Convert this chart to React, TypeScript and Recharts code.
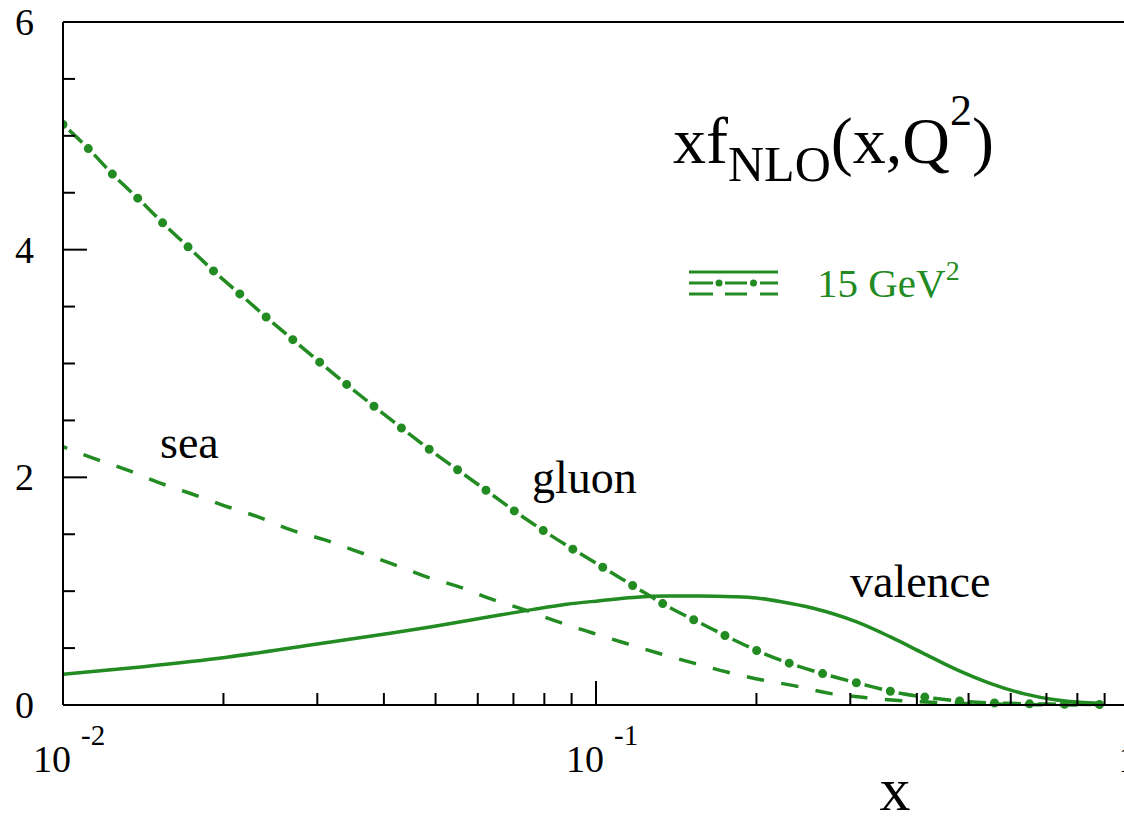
import React from 'react';
import { LineChart, Line, XAxis, YAxis } from 'recharts';

const GREEN = '#228b22';
const FONT = '"Liberation Serif", "Times New Roman", serif';

// values
const valenceX = [0.01, 0.01415, 0.0203, 0.0291, 0.0417, 0.0495, 0.0572, 0.066, 0.0763, 0.0881, 0.1017, 0.1175, 0.1357, 0.1567, 0.181, 0.2002, 0.2214, 0.2557, 0.3084, 0.3561, 0.4113, 0.475, 0.5486, 0.6335, 0.7317, 0.8091, 0.8822];
const valenceY = [0.27, 0.337, 0.42, 0.527, 0.635, 0.69, 0.74, 0.79, 0.84, 0.885, 0.916, 0.945, 0.958, 0.958, 0.952, 0.94, 0.91, 0.85, 0.73, 0.6, 0.454, 0.31, 0.19, 0.1, 0.044, 0.024, 0.015];

const seaX = [0.01, 0.01135, 0.0131, 0.015, 0.0173, 0.0201, 0.0233, 0.0267, 0.031, 0.0356, 0.0412, 0.0478, 0.0552, 0.0637, 0.0736, 0.085, 0.0982, 0.114, 0.132, 0.152, 0.176, 0.205, 0.235, 0.276, 0.322, 0.375, 0.436, 0.506, 0.585, 0.711, 0.882];
const seaY = [2.27, 2.17, 2.07, 1.96, 1.86, 1.75, 1.65, 1.54, 1.45, 1.35, 1.245, 1.13, 1.04, 0.93, 0.835, 0.73, 0.635, 0.54, 0.45, 0.37, 0.29, 0.22, 0.17, 0.1, 0.064, 0.038, 0.023, 0.012, 0.006, 0.002, 0.0005];

const gluonX = [0.01, 0.0112, 0.0124, 0.0139, 0.0155, 0.0173, 0.0193, 0.0216, 0.0243, 0.0273, 0.0307, 0.0346, 0.0389, 0.0438, 0.0495, 0.056, 0.0633, 0.0715, 0.0816, 0.0926, 0.1055, 0.12, 0.137, 0.157, 0.18, 0.207, 0.238, 0.276, 0.32, 0.372, 0.431, 0.501, 0.585, 0.679, 0.79, 0.886];
const gluonY = [5.1, 4.88, 4.66, 4.44, 4.22, 4.01, 3.8, 3.6, 3.39, 3.19, 2.99, 2.79, 2.6, 2.41, 2.22, 2.04, 1.86, 1.68, 1.5, 1.34, 1.18, 1.02, 0.86, 0.72, 0.58, 0.45, 0.345, 0.255, 0.176, 0.103, 0.059, 0.029, 0.015, 0.009, 0.006, 0.004];

const xTicks = [0.01, 0.02, 0.03, 0.04, 0.05, 0.06, 0.07, 0.08, 0.09, 0.1, 0.2, 0.3, 0.4, 0.5, 0.6, 0.7, 0.8, 0.9, 1];
const yTicks = [0, 0.5, 1, 1.5, 2, 2.5, 3, 3.5, 4, 4.5, 5, 5.5, 6];

const toPoints = (xs: number[], ys: number[]) => xs.map((x, i) => ({ x, y: ys[i] }));
const valence = toPoints(valenceX, valenceY);
const sea = toPoints(seaX, seaY);
const gluon = toPoints(gluonX, gluonY);

const isDecade = (v: number) => Math.abs(Math.log10(v) - Math.round(Math.log10(v))) < 1e-6;

const BottomTick = (props: any) => {
  const { x, y, payload } = props;
  const v = payload.value;
  const major = isDecade(v);
  const exp = Math.round(Math.log10(v));
  return (
    <g>
      <line x1={x} y1={y} x2={x} y2={y - (major ? 24 : 12)} stroke="#000" strokeWidth={2} />
      {major && exp !== 0 && (
        <>
          <text x={x + 8} y={y + 67} textAnchor="end" fontSize={38} fontFamily={FONT} fill="#000">10</text>
          <text x={x + 18} y={y + 40} fontSize={29} fontFamily={FONT} fill="#000">{`-${-exp}`}</text>
        </>
      )}
      {major && exp === 0 && (
        <text x={x - 1} y={y + 67} textAnchor="middle" fontSize={38} fontFamily={FONT} fill="#000">1</text>
      )}
    </g>
  );
};

const TopTick = (props: any) => {
  const { x, y, payload } = props;
  const major = isDecade(payload.value);
  return <line x1={x} y1={y} x2={x} y2={y + (major ? 24 : 12)} stroke="#000" strokeWidth={2} />;
};

const LeftTick = (props: any) => {
  const { x, y, payload } = props;
  const v = payload.value;
  const major = v % 2 === 0;
  return (
    <g>
      <line x1={x} y1={y} x2={x + (major ? 24 : 12)} y2={y} stroke="#000" strokeWidth={2} />
      {major && (
        <text x={x - 29} y={y + 13} textAnchor="end" fontSize={38} fontFamily={FONT} fill="#000">{v}</text>
      )}
    </g>
  );
};

const RightTick = (props: any) => {
  const { x, y, payload } = props;
  const major = payload.value % 2 === 0;
  return <line x1={x} y1={y} x2={x - (major ? 24 : 12)} y2={y} stroke="#000" strokeWidth={2} />;
};

const axisStroke = { stroke: '#000', strokeWidth: 2 };

export default function App() {
  return (
    <div style={{ position: 'fixed', left: 0, top: 0, width: 1124, height: 821, overflow: 'hidden', background: '#fff' }}>
      <LineChart width={1140} height={821} margin={{ top: 0, right: 0, bottom: 0, left: 0 }}>
        <XAxis
          dataKey="x"
          type="number"
          scale="log"
          domain={[0.01, 1]}
          allowDataOverflow
          ticks={xTicks}
          interval={0}
          tickLine={false}
          tickSize={0}
          tickMargin={0}
          axisLine={axisStroke}
          tick={BottomTick}
          height={116}
        />
        <XAxis
          xAxisId="top"
          orientation="top"
          type="number"
          scale="log"
          domain={[0.01, 1]}
          allowDataOverflow
          ticks={xTicks}
          interval={0}
          tickLine={false}
          tickSize={0}
          tickMargin={0}
          axisLine={axisStroke}
          tick={TopTick}
          height={22}
        />
        <YAxis
          type="number"
          domain={[0, 6]}
          ticks={yTicks}
          interval={0}
          tickLine={false}
          tickSize={0}
          tickMargin={0}
          axisLine={axisStroke}
          tick={LeftTick}
          width={63}
        />
        <YAxis
          yAxisId="right"
          orientation="right"
          type="number"
          domain={[0, 6]}
          ticks={yTicks}
          interval={0}
          tickLine={false}
          tickSize={0}
          tickMargin={0}
          axisLine={axisStroke}
          tick={RightTick}
          width={11}
        />

        <Line data={valence} dataKey="y" type="monotone" stroke={GREEN} strokeWidth={3.5} dot={false} isAnimationActive={false} />
        <Line data={sea} dataKey="y" type="monotone" stroke={GREEN} strokeWidth={3.5} strokeDasharray="17.5 17.5" strokeDashoffset={13} dot={false} isAnimationActive={false} />
        <Line data={gluon} dataKey="y" type="monotone" stroke={GREEN} strokeWidth={3.5} strokeDasharray="0 8.5 18 8.5" dot={false} isAnimationActive={false} />
        <Line data={gluon} dataKey="y" type="monotone" stroke={GREEN} strokeWidth={9} strokeLinecap="round" strokeDasharray="0 35" dot={false} isAnimationActive={false} />

        <text x={673} y={163} fontSize={66} fontFamily={FONT} fill="#000">
          xf<tspan fontSize={50} dy={18}>NLO</tspan>
          <tspan dy={-18}>(x,Q</tspan>
          <tspan fontSize={44} dy={-38}>2</tspan>
          <tspan dy={38}>)</tspan>
        </text>

        <g stroke={GREEN} strokeWidth={3}>
          <line x1={689} y1={272} x2={778} y2={272} />
          <line x1={689} y1={283} x2={713} y2={283} />
          <line x1={725} y1={283} x2={747} y2={283} />
          <line x1={760} y1={283} x2={778} y2={283} />
          <line x1={689} y1={294} x2={713} y2={294} />
          <line x1={725} y1={294} x2={747} y2={294} />
          <line x1={760} y1={294} x2={778} y2={294} />
        </g>
        <circle cx={719} cy={283} r={3.5} fill={GREEN} />
        <circle cx={753.5} cy={283} r={3.5} fill={GREEN} />
        <text x={817} y={297} fontSize={41} fontFamily={FONT} fill={GREEN}>
          15 GeV<tspan fontSize={28} dy={-17}>2</tspan>
        </text>

        <text x={160} y={458} fontSize={46} fontFamily={FONT} fill="#000">sea</text>
        <text x={532} y={493} fontSize={46} fontFamily={FONT} fill="#000">gluon</text>
        <text x={850} y={597} fontSize={46} fontFamily={FONT} fill="#000">valence</text>
        <text x={895} y={810} fontSize={62} fontFamily={FONT} textAnchor="middle" fill="#000">x</text>
      </LineChart>
    </div>
  );
}
